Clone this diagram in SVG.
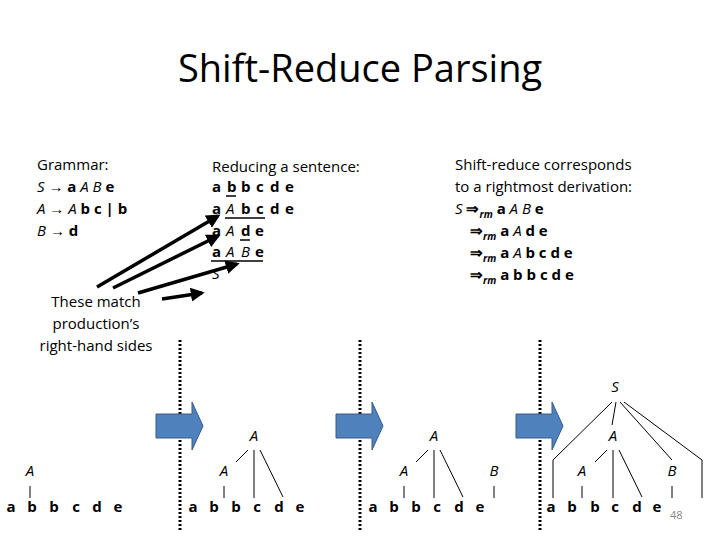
<svg xmlns="http://www.w3.org/2000/svg" width="720" height="540" viewBox="0 0 720 540">
<style>
text{font-family:"Open Sans","Liberation Sans",sans-serif;fill:#000}
.t{font-size:15px}
.b{font-size:15px;font-weight:bold}
.i{font-style:italic;font-weight:normal}
.s{font-size:10px;font-style:italic}
.leaf{font-size:15px;font-weight:bold;text-anchor:middle}
.nt{font-size:15px;font-style:italic;text-anchor:middle}
.e{stroke:#000;stroke-width:1;fill:none}
.u{stroke:#000;stroke-width:1.5}
.dot{stroke:#000;stroke-width:3;stroke-dasharray:2 2}
.blk{fill:#4f81bd;stroke:#385d8a;stroke-width:1}
.ar{stroke:#000;stroke-width:3.5;marker-end:url(#h)}
</style>
<defs>
<marker id="h" viewBox="0 0 10 10" refX="8" refY="5" markerWidth="4" markerHeight="4" orient="auto"><path d="M0,0L10,5L0,10z" fill="#000"/></marker>
</defs>
<text x="360" y="82" font-size="38" text-anchor="middle" style="font-family:'Open Sans','Liberation Sans',sans-serif">Shift-Reduce Parsing</text>
<g id="grammar" class="t">
<text x="37" y="170" class="t">Grammar:</text>
<text x="37" y="192" class="b"><tspan class="i">S</tspan> → a <tspan class="i">A B</tspan> e</text>
<text x="37" y="214" class="b"><tspan class="i">A</tspan> → <tspan class="i">A</tspan> b c | b</text>
<text x="37" y="236" class="b"><tspan class="i">B</tspan> → d</text>
</g>
<g id="reducing">
<text x="212" y="172" class="t">Reducing a sentence:</text>
<text y="192" class="b"><tspan x="212">a</tspan><tspan x="227">b</tspan><tspan x="241">b</tspan><tspan x="256">c</tspan><tspan x="270">d</tspan><tspan x="285">e</tspan></text>
<line class="u" x1="226" y1="196" x2="236" y2="196"/>
<text y="214" class="b"><tspan x="212">a</tspan><tspan x="226" class="i">A</tspan><tspan x="241">b</tspan><tspan x="256">c</tspan><tspan x="270">d</tspan><tspan x="285">e</tspan></text>
<line class="u" x1="225" y1="218" x2="265" y2="218"/>
<text y="236" class="b"><tspan x="212">a</tspan><tspan x="226" class="i">A</tspan><tspan x="241">d</tspan><tspan x="255">e</tspan></text>
<line class="u" x1="240" y1="240" x2="250" y2="240"/>
<text y="257" class="b"><tspan x="212">a</tspan><tspan x="226" class="i">A</tspan><tspan x="241" class="i">B</tspan><tspan x="255">e</tspan></text>
<line class="u" x1="211" y1="261" x2="263" y2="261"/>
<text x="212" y="279" class="nt" text-anchor="start" style="text-anchor:start">S</text>
</g>
<g id="derivation">
<text x="455" y="170" class="t">Shift-reduce corresponds</text>
<text x="455" y="192" class="t">to a rightmost derivation:</text>
<text x="455" y="214" class="b"><tspan class="i">S</tspan> ⇒<tspan class="s" dy="4">rm</tspan><tspan dy="-4"> a </tspan><tspan class="i">A B</tspan> e</text>
<text x="470" y="236" class="b">⇒<tspan class="s" dy="4">rm</tspan><tspan dy="-4"> a </tspan><tspan class="i">A</tspan> d e</text>
<text x="470" y="258" class="b">⇒<tspan class="s" dy="4">rm</tspan><tspan dy="-4"> a </tspan><tspan class="i">A</tspan> b c d e</text>
<text x="470" y="280" class="b">⇒<tspan class="s" dy="4">rm</tspan><tspan dy="-4"> a b b c d e</tspan></text>
</g>
<g id="note">
<text x="96" y="307" class="t" text-anchor="middle">These match</text>
<text x="96" y="329" class="t" text-anchor="middle">production’s</text>
<text x="96" y="351" class="t" text-anchor="middle">right-hand sides</text>
</g>
<g id="connectors">
<line class="ar" x1="97" y1="287" x2="218" y2="216"/>
<line class="ar" x1="113" y1="288" x2="218" y2="236"/>
<line class="ar" x1="138" y1="293" x2="237" y2="264"/>
<line class="ar" x1="162" y1="299" x2="202" y2="293"/>
</g>
<g id="separators">
<line class="dot" x1="180" y1="340" x2="180" y2="532"/>
<line class="dot" x1="360" y1="340" x2="360" y2="532"/>
<line class="dot" x1="540" y1="340" x2="540" y2="532"/>
</g>
<g id="steps">
<path class="blk" d="M156,414H192V402L203,426L192,450V438H156Z"/>
<path class="blk" d="M336,414H372V402L383,426L372,450V438H336Z"/>
<path class="blk" d="M516,414H552V402L563,426L552,450V438H516Z"/>
</g>
<g id="tree1">
<text x="30" y="476" class="nt">A</text>
<line class="e" x1="30" y1="486" x2="30" y2="498"/>
<text y="512" class="leaf"><tspan x="11">a</tspan><tspan x="32">b</tspan><tspan x="54">b</tspan><tspan x="76">c</tspan><tspan x="97">d</tspan><tspan x="118">e</tspan></text>
</g>
<g id="tree2">
<text x="254" y="441" class="nt">A</text>
<text x="224" y="476" class="nt">A</text>
<line class="e" x1="248" y1="450" x2="236" y2="462"/>
<line class="e" x1="254" y1="450" x2="254" y2="498"/>
<line class="e" x1="260" y1="450" x2="283" y2="497"/>
<line class="e" x1="224" y1="486" x2="224" y2="498"/>
<text y="512" class="leaf"><tspan x="193">a</tspan><tspan x="214">b</tspan><tspan x="236">b</tspan><tspan x="257">c</tspan><tspan x="279">d</tspan><tspan x="300">e</tspan></text>
</g>
<g id="tree3">
<text x="434" y="441" class="nt">A</text>
<text x="404" y="476" class="nt">A</text>
<text x="494" y="476" class="nt">B</text>
<line class="e" x1="428" y1="450" x2="416" y2="462"/>
<line class="e" x1="434" y1="450" x2="434" y2="498"/>
<line class="e" x1="440" y1="450" x2="463" y2="497"/>
<line class="e" x1="404" y1="486" x2="404" y2="498"/>
<line class="e" x1="494" y1="486" x2="494" y2="498"/>
<text y="512" class="leaf"><tspan x="373">a</tspan><tspan x="394">b</tspan><tspan x="416">b</tspan><tspan x="437">c</tspan><tspan x="459">d</tspan><tspan x="480">e</tspan></text>
</g>
<g id="tree4">
<text x="615" y="392" class="nt">S</text>
<text x="613" y="441" class="nt">A</text>
<text x="582" y="476" class="nt">A</text>
<text x="672" y="476" class="nt">B</text>
<polyline class="e" points="612,402 553,460 553,498"/>
<line class="e" x1="616" y1="402" x2="612" y2="425"/>
<line class="e" x1="620" y1="402" x2="672" y2="460"/>
<polyline class="e" points="624,402 702,460 702,498"/>
<line class="e" x1="607" y1="450" x2="595" y2="462"/>
<line class="e" x1="613" y1="450" x2="613" y2="498"/>
<line class="e" x1="619" y1="450" x2="642" y2="497"/>
<line class="e" x1="582" y1="486" x2="582" y2="498"/>
<line class="e" x1="672" y1="486" x2="672" y2="498"/>
<text y="512" class="leaf"><tspan x="551">a</tspan><tspan x="572">b</tspan><tspan x="595">b</tspan><tspan x="615">c</tspan><tspan x="637">d</tspan><tspan x="657">e</tspan></text>
<text x="670" y="519" font-size="11" fill="#888" style="fill:#888">48</text>
</g>
</svg>
